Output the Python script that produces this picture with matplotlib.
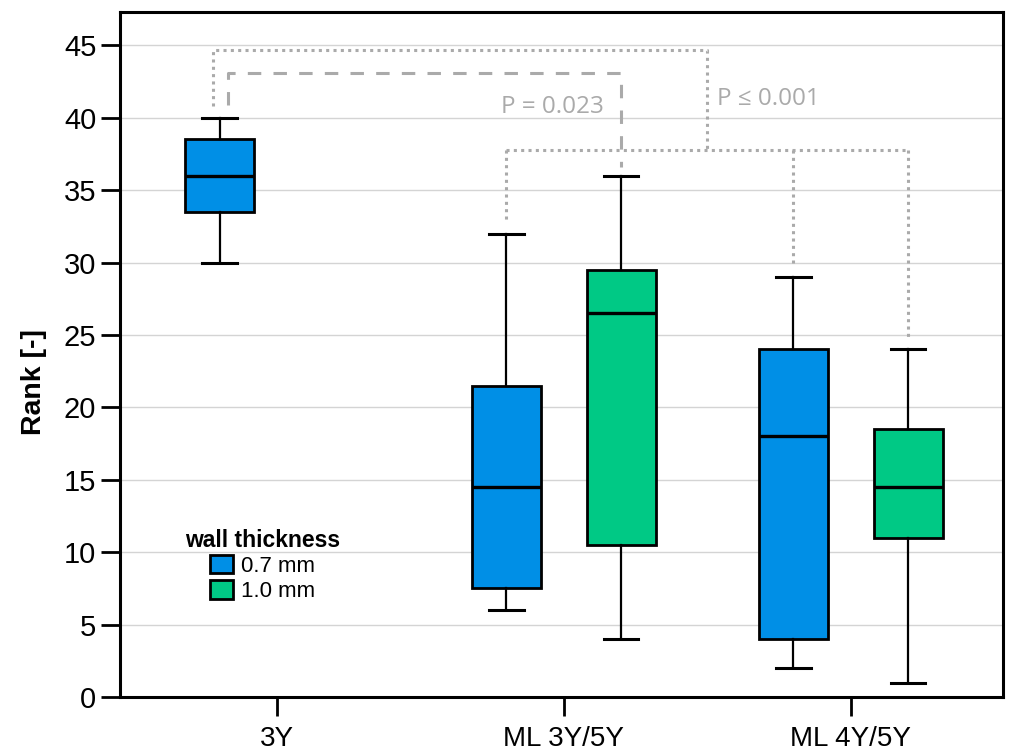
import numpy as np
import matplotlib.pyplot as plt
from matplotlib.patches import Patch

plt.rcParams['font.family'] = ['Liberation Sans', 'DejaVu Sans']

# donnees
groupes = ["3Y", "ML 3Y/5Y", "ML 4Y/5Y"]
epaisseurs = ["0.7 mm", "1.0 mm"]
couleurs = ["#008FE6", "#00C985"]

# (groupe, epaisseur, whislo, q1, med, q3, whishi)
boites = [
    (0, 0, 30, 33.5, 36, 38.5, 40),
    (1, 0, 6, 7.5, 14.5, 21.5, 32),
    (1, 1, 4, 10.5, 26.5, 29.5, 36),
    (2, 0, 2, 4, 18, 24, 29),
    (2, 1, 1, 11, 14.5, 18.5, 24),
]
p_textes = ["P = 0.023", "P \u2264 0.001"]

decalage = [-0.2, 0.2]
largeur = 0.24

fig = plt.figure(figsize=(10.14, 7.54), dpi=100)
ax = fig.add_axes([0.1183, 0.0756, 0.8707, 0.9085])

positions = []
for g, e, lo, q1, med, q3, hi in boites:
    pos = g + decalage[e]
    positions.append(pos)
    stats = [dict(whislo=lo, q1=q1, med=med, q3=q3, whishi=hi, fliers=[])]
    ax.bxp(stats, positions=[pos], widths=largeur, capwidths=0.12, patch_artist=True,
           showfliers=False,
           boxprops=dict(facecolor=couleurs[e], edgecolor="black", linewidth=2),
           medianprops=dict(color="black", linewidth=2.4),
           whiskerprops=dict(color="black", linewidth=1.6),
           capprops=dict(color="black", linewidth=2.2), zorder=3)

# crochets de signification
gris = "#aaaaaa"
pointille = dict(color=gris, lw=2.2, linestyle=(0, (1, 1.4)), zorder=2)
tirets = dict(color=gris, lw=2.2, linestyle=(0, (4.4, 4)), zorder=2)
hauts = [b[6] for b in boites]

# P = 0.023 : 3Y contre ML 3Y/5Y 1.0 mm
x0 = positions[0] + 0.03
x1 = positions[2]
ax.plot([x0, x0, x1, x1], [hauts[0] + 0.9, 43.1, 43.1, hauts[2] + 0.6], **tirets)

# P <= 0.001 : 3Y contre le reste
xa = positions[0] - 0.024
ax.plot([xa, xa, 1.5, 1.5], [hauts[0] + 0.8, 44.7, 44.7, 37.8], **pointille)
ax.plot([positions[1], positions[4]], [37.8, 37.8], **pointille)
for i in [1, 3, 4]:
    ax.plot([positions[i], positions[i]], [37.8, hauts[i] + 0.7], **pointille)

ax.text(0.96, 40.75, p_textes[0], ha="center", va="center", fontsize=17.5, color=gris,
        family=["Open Sans", "DejaVu Sans"])
ax.text(1.533, 41.3, p_textes[1], ha="left", va="center", fontsize=17.5, color=gris,
        family=["Open Sans", "DejaVu Sans"])

ax.set_xlim(-0.547, 2.53)
ax.set_ylim(0, 47.3)
ax.set_xticks(range(len(groupes)))
ax.set_xticklabels(groupes)
ax.set_yticks(np.arange(0, 46, 5))
ax.yaxis.grid(True, color="#d4d4d4", linewidth=1)
ax.set_axisbelow(True)
ax.tick_params(axis="both", labelsize=20, length=14, width=2)
ax.tick_params(axis="y", labelsize=21, pad=3)
ax.tick_params(axis="x", pad=7)
for s in ax.spines.values():
    s.set_linewidth(2.2)

ax.set_ylabel("Rank [-]", fontsize=20.5, fontweight="bold")
ax.yaxis.set_label_coords(-0.083, 0.46)

poignees = [Patch(facecolor=couleurs[i], edgecolor="black", linewidth=2, label=epaisseurs[i])
            for i in range(2)]
leg = ax.legend(handles=poignees, title="wall thickness", loc="upper center",
                bbox_to_anchor=(0.162, 0.262), frameon=False, fontsize=16,
                handlelength=1.0, handleheight=0.9, handletextpad=0.4,
                labelspacing=0.15, borderpad=0)
leg.get_title().set_fontweight("bold")
leg.get_title().set_fontsize(16.5)

plt.savefig("out.png", dpi=100)
